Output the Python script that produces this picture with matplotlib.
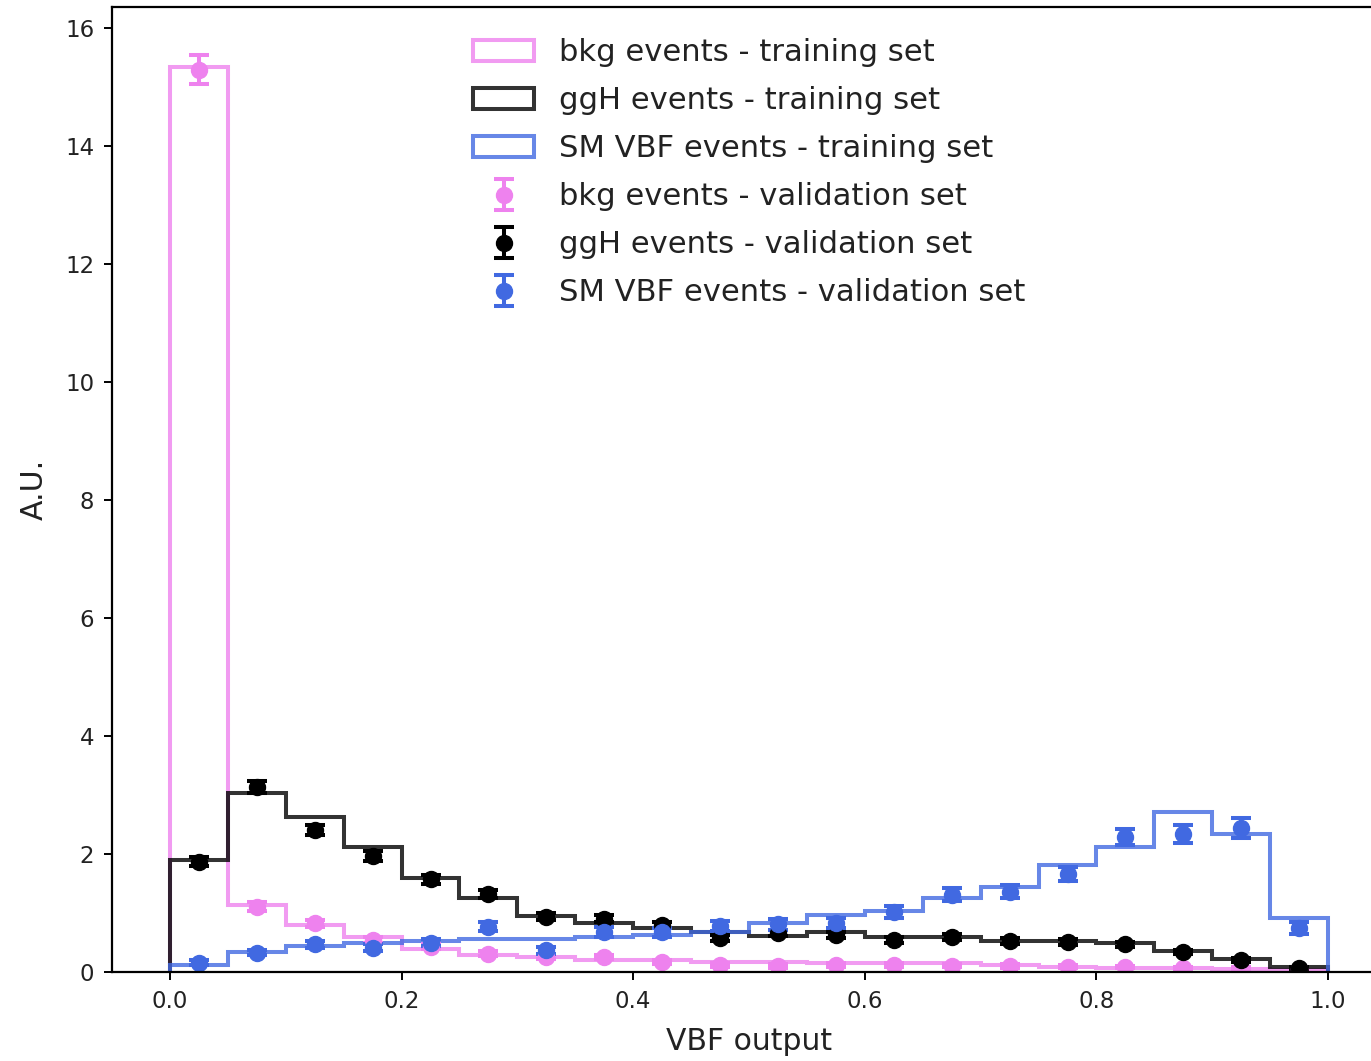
import numpy as np
import matplotlib
matplotlib.use("Agg")
import matplotlib.pyplot as plt

# 20 bins on the VBF classifier output
bin_edges = np.linspace(0.0, 1.0, 21)
bin_centers = 0.5 * (bin_edges[:-1] + bin_edges[1:])

# normalised histograms, training set
bkg_train = [15.35, 1.14, 0.80, 0.60, 0.39, 0.29, 0.26, 0.20, 0.20, 0.17,
             0.17, 0.15, 0.15, 0.15, 0.12, 0.09, 0.07, 0.06, 0.05, 0.04]
ggh_train = [1.90, 3.03, 2.63, 2.12, 1.60, 1.26, 0.95, 0.83, 0.75, 0.67,
             0.61, 0.67, 0.60, 0.59, 0.53, 0.53, 0.50, 0.36, 0.22, 0.08]
vbf_train = [0.12, 0.34, 0.44, 0.49, 0.53, 0.56, 0.56, 0.59, 0.63, 0.68,
             0.83, 0.97, 1.04, 1.26, 1.44, 1.82, 2.12, 2.72, 2.34, 0.91]

# validation set, points with errors
bkg_val = [15.30, 1.11, 0.83, 0.54, 0.43, 0.31, 0.26, 0.25, 0.17, 0.12,
           0.10, 0.12, 0.12, 0.11, 0.10, 0.09, 0.08, 0.07, 0.06, 0.05]
bkg_err = [0.25, 0.07, 0.06, 0.05, 0.04, 0.04, 0.04, 0.03, 0.03, 0.03,
           0.03, 0.03, 0.03, 0.03, 0.03, 0.03, 0.02, 0.02, 0.02, 0.02]
ggh_val = [1.87, 3.14, 2.41, 1.97, 1.57, 1.32, 0.94, 0.90, 0.79, 0.58,
           0.66, 0.62, 0.54, 0.59, 0.53, 0.51, 0.47, 0.34, 0.20, 0.06]
ggh_err = [0.08, 0.10, 0.09, 0.08, 0.07, 0.07, 0.06, 0.06, 0.05, 0.05,
           0.05, 0.05, 0.05, 0.05, 0.05, 0.05, 0.04, 0.04, 0.03, 0.02]
vbf_val = [0.16, 0.33, 0.47, 0.41, 0.50, 0.77, 0.37, 0.68, 0.67, 0.78,
           0.81, 0.83, 1.02, 1.31, 1.36, 1.66, 2.29, 2.34, 2.44, 0.75]
vbf_err = [0.04, 0.05, 0.06, 0.06, 0.06, 0.08, 0.06, 0.08, 0.08, 0.09,
           0.09, 0.09, 0.10, 0.11, 0.11, 0.12, 0.14, 0.15, 0.17, 0.10]

labels = ['bkg', 'ggH', 'SM VBF']
colors = ['violet', 'black', 'royalblue']

fig = plt.figure(figsize=(13.71, 10.61), dpi=100)
ax = fig.add_axes([112 / 1371, 89 / 1061, 1274 / 1371, 965 / 1061])

for vals, lab, c in zip([bkg_train, ggh_train, vbf_train], labels, colors):
    ax.hist(bin_centers, bins=bin_edges, weights=vals, histtype='step',
            color=c, alpha=0.8, linewidth=2.9,
            label=lab + ' events - training set')

for vals, errs, lab, c in zip([bkg_val, ggh_val, vbf_val],
                              [bkg_err, ggh_err, vbf_err], labels, colors):
    ax.errorbar(bin_centers, vals, yerr=errs, fmt='o', color=c,
                markersize=11.5, elinewidth=2.9, capsize=7, capthick=2.9,
                label=lab + ' events - validation set')

ax.set_xlim(-0.05, 1.05)
ax.set_ylim(0, 16.36)
ax.set_xlabel('VBF output', fontsize=21.5, color='#222222', labelpad=10)
ax.set_ylabel('A.U.', fontsize=21.5, color='#222222', labelpad=12)
ax.tick_params(labelsize=16.5, length=5.8, width=1.4, pad=7,
               labelcolor='#222222')
for sp in ax.spines.values():
    sp.set_linewidth(1.6)
leg = ax.legend(loc='upper center', frameon=False, fontsize=22.1,
                labelspacing=0.62, borderaxespad=0.62)
for t in leg.get_texts():
    t.set_color('#222222')

fig.savefig('out.png', dpi=100)
